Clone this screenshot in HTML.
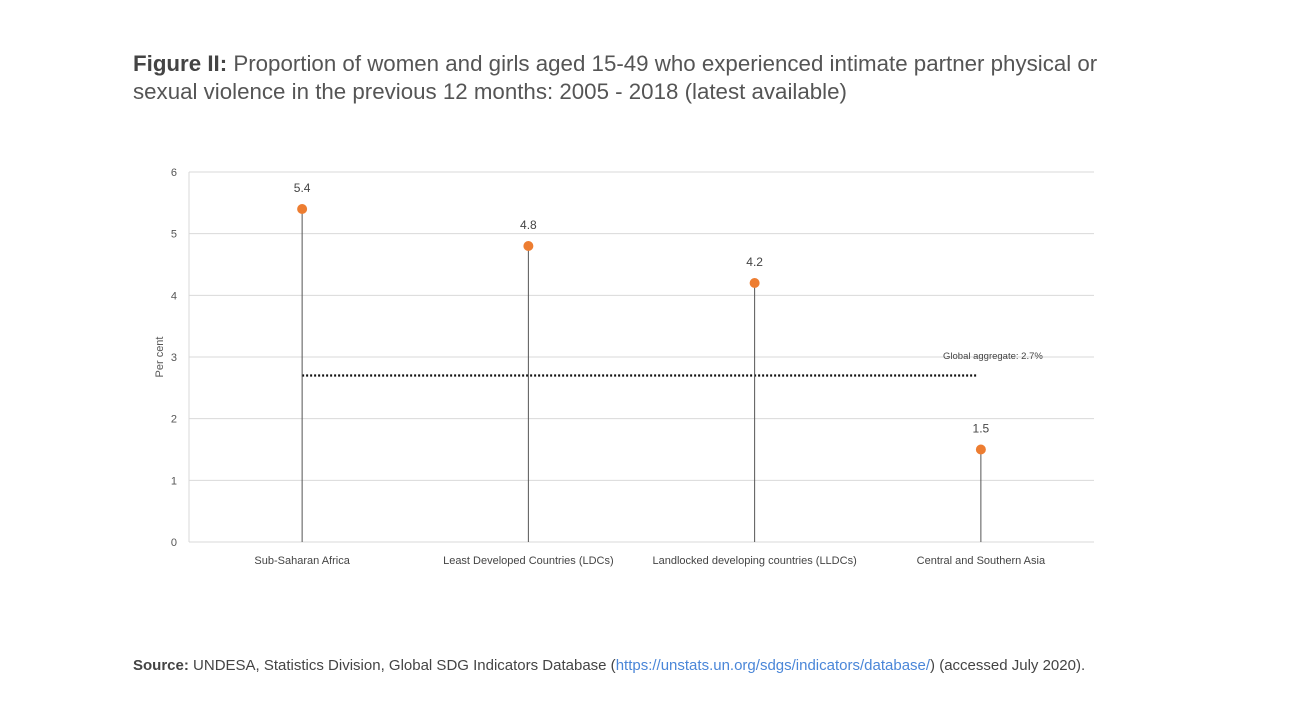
<!DOCTYPE html>
<html><head><meta charset="utf-8"><style>
body{margin:0;background:#fff;width:1295px;height:701px;overflow:hidden;font-family:"Liberation Sans",sans-serif}
#title{position:absolute;left:133px;top:50px;font-size:22.3px;line-height:28px;color:#555}
#title b{color:#444}
#source{position:absolute;left:133px;top:657px;font-size:15px;color:#444}
#source a{color:#4a86d8;text-decoration:none}
</style></head><body>
<div id="title"><b>Figure II:</b> Proportion of women and girls aged 15-49 who experienced intimate partner physical or<br>sexual violence in the previous 12 months: 2005 - 2018 (latest available)</div>
<svg id="chart" width="1295" height="701" style="position:absolute;left:0;top:0"></svg>
<div id="source"><b>Source:</b> UNDESA, Statistics Division, Global SDG Indicators Database (<a>https://unstats.un.org/sdgs/indicators/database/</a>) (accessed July 2020).</div>
<script>
const categories=["Sub-Saharan Africa","Least Developed Countries (LDCs)","Landlocked developing countries (LLDCs)","Central and Southern Asia"];
const values=[5.4,4.8,4.2,1.5];
const labels=["5.4","4.8","4.2","1.5"];
const yTicks=[0,1,2,3,4,5,6];
const globalValue=2.7;
const globalLabel="Global aggregate: 2.7%";
const svg=document.getElementById('chart');
const NS='http://www.w3.org/2000/svg';
const L=189,R=1094,T=172,B=542,yMax=6;
const y=v=>B-(v/yMax)*(B-T);
const bw=(R-L)/categories.length;
const x=i=>L+bw*(i+0.5);
function mk(tag,attrs,txt){const e=document.createElementNS(NS,tag);for(const k in attrs)e.setAttribute(k,attrs[k]);if(txt!==undefined)e.textContent=txt;svg.appendChild(e);return e;}
const F='"Liberation Sans",sans-serif';
yTicks.forEach(t=>{
 const g=mk('line',{x1:L,x2:R,y1:y(t),y2:y(t),stroke:'#d9d9d9','stroke-width':1});
 
 
 const tl=mk('text',{x:177,y:y(t)+4,'text-anchor':'end','font-size':11,fill:'#555','font-family':F},String(t));
 
 
});
const ax=mk('line',{x1:L,x2:L,y1:T,y2:B,stroke:'#d9d9d9'});


const yt=mk('text',{transform:'translate(163,357) rotate(-90)','text-anchor':'middle','font-size':11,fill:'#555','font-family':F},'Per cent');


const gl=mk('line',{x1:x(0),x2:x(categories.length-1)-4,y1:y(globalValue),y2:y(globalValue),stroke:'#111','stroke-width':2.2,'stroke-dasharray':'2,2'});


const glt=mk('text',{x:943,y:y(3)+2,'font-size':9.5,fill:'#444','font-family':F},globalLabel);


categories.forEach((c,i)=>{
 const s=mk('line',{x1:x(i),x2:x(i),y1:B,y2:y(values[i]),stroke:'#555','stroke-width':1});
 
 
 const p=mk('circle',{cx:x(i),cy:y(values[i]),r:5,fill:'#ed7d31'});
 
 
 const v=mk('text',{x:x(i),y:y(values[i])-17,'text-anchor':'middle','font-size':12,fill:'#444','font-family':F},labels[i]);
 
 
 const cl=mk('text',{x:x(i),y:564,'text-anchor':'middle','font-size':11,fill:'#444','font-family':F},c);
 
 
});
</script>
</body></html>
